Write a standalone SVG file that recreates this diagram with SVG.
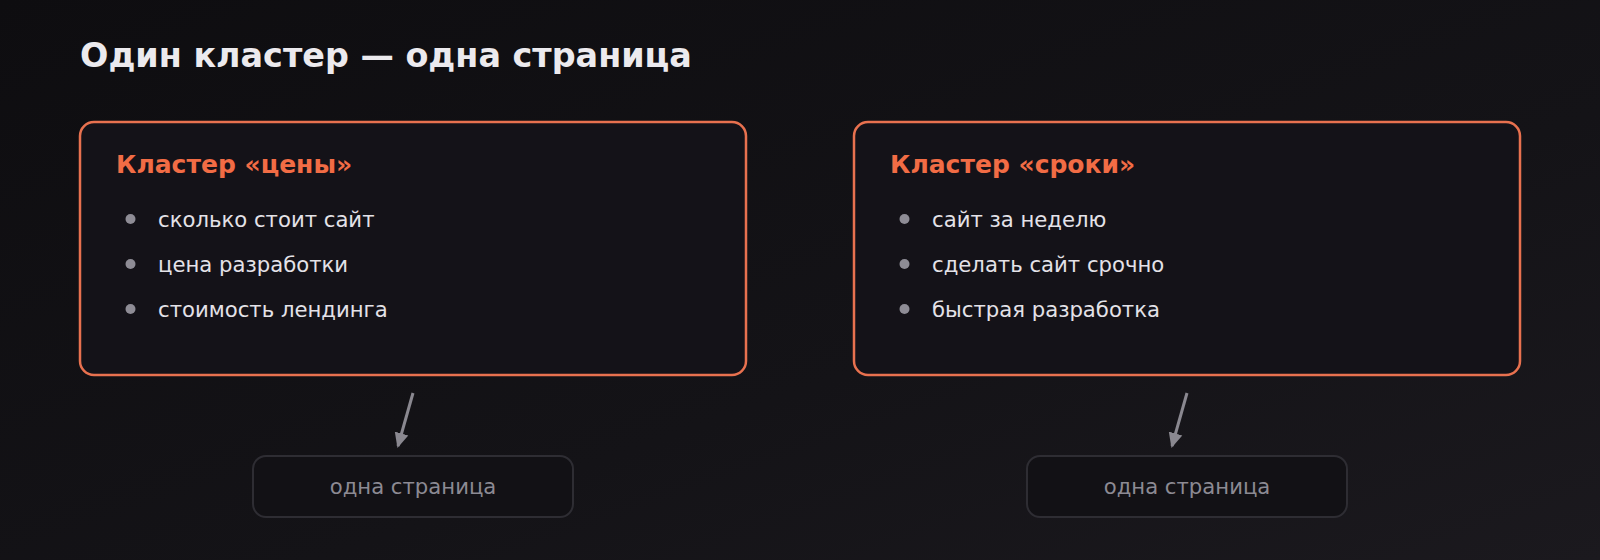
<svg xmlns="http://www.w3.org/2000/svg" width="1600" height="560" viewBox="0 0 1600 560">
<defs>
<linearGradient id="bg" x1="0" y1="0" x2="1" y2="1">
<stop offset="0" stop-color="#0e0d10"/>
<stop offset="0.6" stop-color="#141317"/>
<stop offset="1" stop-color="#1b191e"/>
</linearGradient>
<marker id="ah" markerWidth="16" markerHeight="16" refX="13" refY="8" orient="auto" markerUnits="userSpaceOnUse">
<path d="M0,1 L15,8 L0,15 Z" fill="#8a8890"/>
</marker>
<style>
.title{font-family:"DejaVu Sans",sans-serif;font-weight:bold;font-size:33.4px;fill:#eceaee}
.card{fill:#141218;stroke:#e8714f;stroke-width:2.5}
.head{font-family:"DejaVu Sans",sans-serif;font-weight:bold;font-size:25px;fill:#f26c45}
.item{font-family:"DejaVu Sans",sans-serif;font-size:21.2px;fill:#e4e2e8}
.dot{fill:#8e8c95}
.page{fill:#121115;stroke:#2e2d33;stroke-width:2}
.ptext{font-family:"DejaVu Sans",sans-serif;font-size:21.2px;fill:#8c8a93;text-anchor:middle}
.conn{stroke:#8a8890;stroke-width:3;fill:none}
</style>
</defs>
<rect width="1600" height="560" fill="url(#bg)"/>
<text class="title" x="80" y="67">Один кластер — одна страница</text>

<g id="cluster-prices">
<rect class="card" x="80" y="122" width="666" height="253" rx="14"/>
<text class="head" x="116" y="173">Кластер «цены»</text>
<circle class="dot" cx="130.5" cy="219" r="5"/>
<text class="item" x="158" y="227">сколько стоит сайт</text>
<circle class="dot" cx="130.5" cy="264" r="5"/>
<text class="item" x="158" y="272">цена разработки</text>
<circle class="dot" cx="130.5" cy="309" r="5"/>
<text class="item" x="158" y="317">стоимость лендинга</text>
</g>

<g id="cluster-terms">
<rect class="card" x="854" y="122" width="666" height="253" rx="14"/>
<text class="head" x="890" y="173">Кластер «сроки»</text>
<circle class="dot" cx="904.5" cy="219" r="5"/>
<text class="item" x="932" y="227">сайт за неделю</text>
<circle class="dot" cx="904.5" cy="264" r="5"/>
<text class="item" x="932" y="272">сделать сайт срочно</text>
<circle class="dot" cx="904.5" cy="309" r="5"/>
<text class="item" x="932" y="317">быстрая разработка</text>
</g>

<g id="page-left">
<rect class="page" x="253" y="456" width="320" height="61" rx="13"/>
<text class="ptext" x="413" y="494">одна страница</text>
</g>

<g id="page-right">
<rect class="page" x="1027" y="456" width="320" height="61" rx="13"/>
<text class="ptext" x="1187" y="494">одна страница</text>
</g>

<g id="connectors">
<line class="conn" x1="413" y1="393" x2="398" y2="446" marker-end="url(#ah)"/>
<line class="conn" x1="1187" y1="393" x2="1172" y2="446" marker-end="url(#ah)"/>
</g>
</svg>
